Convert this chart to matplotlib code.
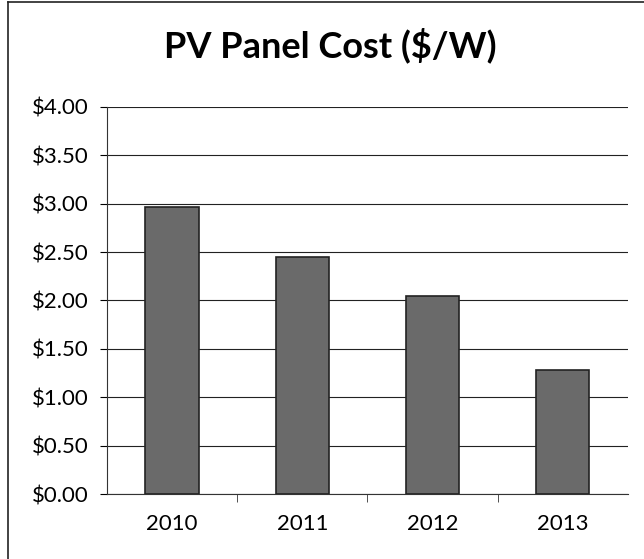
import matplotlib.pyplot as plt
import numpy as np
from matplotlib.ticker import FuncFormatter, FixedLocator
from matplotlib.lines import Line2D

plt.rcParams['font.family'] = ['Lato', 'DejaVu Sans']

# data
years = ['2010', '2011', '2012', '2013']
cost = [2.97, 2.45, 2.05, 1.28]

fig = plt.figure(figsize=(6.44, 5.59), dpi=100)
ax = fig.add_axes([0.166, 0.116, 0.809, 0.693])

x = np.arange(len(years))
ax.bar(x, cost, width=0.41, color='#6a6a6a', edgecolor='#222222', linewidth=1.2, zorder=3)

ax.set_ylim(0, 4)
ax.set_xlim(-0.5, len(years) - 0.5)
ax.set_yticks(np.arange(0, 4.01, 0.5))
ax.yaxis.set_major_formatter(FuncFormatter(lambda v, p: f'${v:.2f}'))
ax.set_xticks(x)
ax.set_xticklabels(years)
ax.xaxis.set_minor_locator(FixedLocator([0.5, 1.5, 2.5]))
ax.tick_params(axis='x', which='major', length=0, pad=14, labelsize=16)
ax.tick_params(axis='x', which='minor', length=6, direction='out', color='#333')
ax.tick_params(axis='y', length=5, direction='out', labelsize=16, pad=8)

ax.grid(axis='y', color='#222', linewidth=0.8, zorder=0)
for s in ['top', 'right']:
    ax.spines[s].set_visible(False)
ax.spines['left'].set_color('#333')
ax.spines['bottom'].set_color('#333')

fig.text(0.513, 0.918, 'PV Panel Cost ($/W)', ha='center', va='center',
         fontsize=26, fontweight='bold')

# scanned border round the chart box
fig.add_artist(Line2D([0.013, 0.013], [0.0, 0.997], color='#222', lw=1.2))
fig.add_artist(Line2D([0.013, 1.0], [0.997, 0.997], color='#222', lw=1.2))

fig.savefig('out.png', dpi=100, facecolor='white')
